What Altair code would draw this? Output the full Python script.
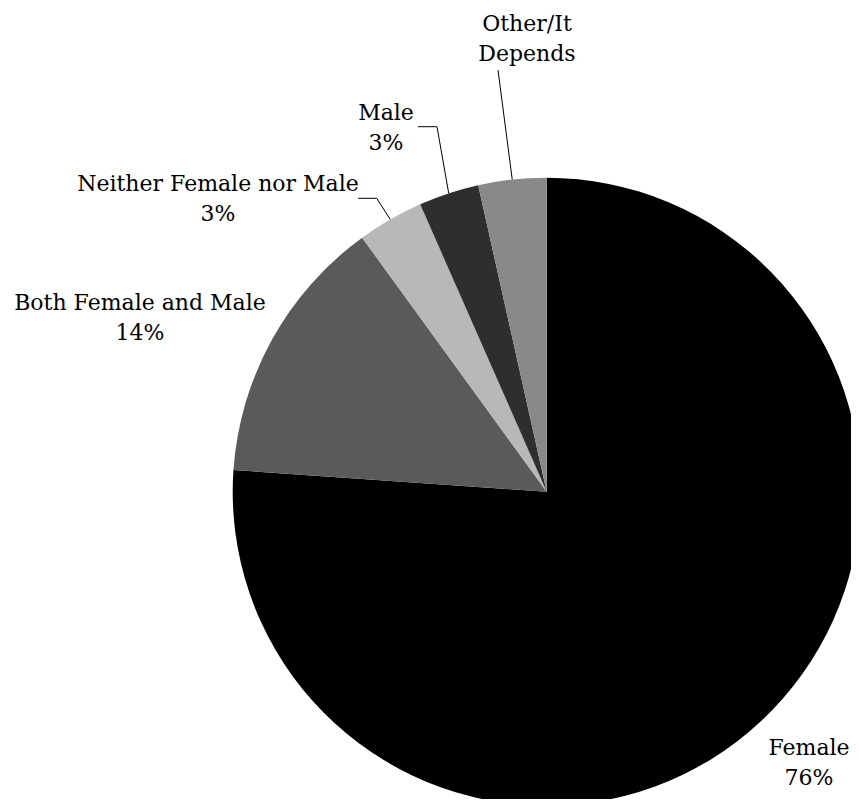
import math
import altair as alt
import pandas as pd

# ---- data ----
categories = ["Female", "Both Female and Male", "Neither Female nor Male", "Male", "Other/It Depends"]
values = [76.1, 13.9, 3.4, 3.1, 3.5]
label_texts = ["Female\n76%", "Both Female and Male\n14%", "Neither Female nor Male\n3%", "Male\n3%", "Other/It\nDepends"]
colors = ["#000000", "#5a5a5a", "#b8b8b8", "#2e2e2e", "#898989"]

# ---- layout (pixels in the view) ----
CX, CY, R = 538.7, 483.7, 314
label_x = [801, 132, 210, 378, 519]
label_y = [747, 302, 183, 112, 23]
# leader line anchor points near the labels (None = no leader)
leader_start = [None, None, [(350, 190.3), (368.7, 190.3)], [(410, 118.7), (429, 118.7)], [(490, 62)]]

total = sum(values)
pie = pd.DataFrame({"category": categories, "value": values, "order": list(range(len(values)))})
labels = pd.DataFrame({"text": label_texts, "lx": label_x, "ly": label_y})

# leader lines end on the arc at each slice's mid-angle
rows = []
cum = 0.0
for i, v in enumerate(values):
    mid = (cum + v / 2) / total * 2 * math.pi
    cum += v
    if leader_start[i] is None:
        continue
    pts = list(leader_start[i]) + [(CX + R * math.sin(mid), CY - R * math.cos(mid))]
    for k, (px, py) in enumerate(pts):
        rows.append({"cat": categories[i], "k": k, "px": px, "py": py})
leaders = pd.DataFrame(rows)

arcs = alt.Chart(pie).mark_arc(radius=R).encode(
    theta=alt.Theta("value:Q", stack=True),
    order=alt.Order("order:Q"),
    color=alt.Color("category:N", scale=alt.Scale(domain=categories, range=colors), legend=None),
    x=alt.value(CX),
    y=alt.value(CY),
)

lines = alt.Chart(leaders).mark_line(color="black", strokeWidth=1).encode(
    x=alt.X("px:Q", scale=None, axis=None),
    y=alt.Y("py:Q", scale=None, axis=None),
    detail="cat:N",
    order="k:Q",
)

texts = alt.Chart(labels).mark_text(
    font="DejaVu Serif", fontSize=22, color="black", align="center",
    baseline="alphabetic", lineBreak="\n", lineHeight=29.5,
).encode(
    x=alt.X("lx:Q", scale=None, axis=None),
    y=alt.Y("ly:Q", scale=None, axis=None),
    text="text:N",
)

chart = alt.layer(arcs, lines, texts).properties(
    width=843, height=791, padding=0, autosize=alt.AutoSizeParams(type="none")
).configure_view(stroke="transparent", strokeWidth=0)

chart.save("out.html", embed_options={"renderer": "svg", "actions": False})
